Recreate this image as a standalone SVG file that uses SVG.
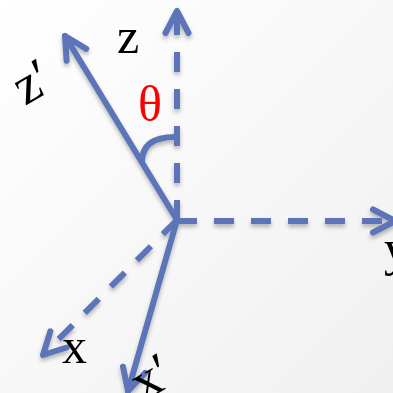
<svg xmlns="http://www.w3.org/2000/svg" width="393" height="393" viewBox="0 0 393 393">
  <defs>
    <linearGradient id="bg" x1="0" y1="0" x2="1" y2="1">
      <stop offset="0" stop-color="#ffffff"/>
      <stop offset="1" stop-color="#f0f0f0"/>
    </linearGradient>
    <filter id="shadow" x="-20%" y="-20%" width="140%" height="140%">
      <feDropShadow dx="0" dy="3" stdDeviation="2" flood-color="#000" flood-opacity="0.28"/>
    </filter>
    <marker id="arrow" markerUnits="userSpaceOnUse" orient="auto" markerWidth="40" markerHeight="40" refX="0" refY="0" viewBox="-30 -20 40 40" overflow="visible">
      <path d="M-22,-11.5 L0,0 L-22,11.5" fill="none" stroke="#5B74B8" stroke-width="6" stroke-linecap="round" stroke-linejoin="round" stroke-dasharray="none"/>
    </marker>
    <style>
      .axis { fill: none; stroke: #5B74B8; stroke-width: 6; stroke-linecap: butt; marker-end: url(#arrow); }
      .dash { stroke-dasharray: 20 17; }
      .solid { stroke-linecap: round; }
      .lbl { font-family: "Liberation Serif", "Times New Roman", serif; font-size: 50px; fill: #000; }
      .lblr { font-family: "Liberation Serif", "Times New Roman", serif; font-size: 54px; fill: #000; }
      .theta { font-family: "Liberation Serif", "Times New Roman", serif; font-size: 50px; fill: #ff0000; }
    </style>
  </defs>
  <rect width="393" height="393" fill="url(#bg)"/>
  <g id="connectors" filter="url(#shadow)">
    <path id="axis-z" class="axis dash" d="M177,220 L177,11"/>
    <path id="axis-y" class="axis dash" d="M177,221 L395,221"/>
    <path id="axis-x" class="axis dash" d="M177,220 L43,355"/>
    <path id="axis-zp" class="axis solid" d="M177,220 L65,36"/>
    <path id="axis-xp" class="axis solid" d="M177,220 L128,391"/>
    <path id="theta-arc" d="M142,162 C142,146 152,137 175,137" fill="none" stroke="#5B74B8" stroke-width="6" stroke-linecap="round"/>
  </g>
  <g id="label-z"><text class="lbl" x="117" y="53">z</text></g>
  <g id="label-y"><text class="lbl" x="384" y="265">y</text></g>
  <g id="label-x"><text class="lbl" x="62" y="363">x</text></g>
  <g id="label-zp"><text class="lblr" transform="translate(25,106) rotate(-30)">z′</text></g>
  <g id="label-xp"><text class="lblr" transform="translate(143,402) rotate(-30)">x′</text></g>
  <g id="label-theta"><text class="theta" x="138" y="121">θ</text></g>
</svg>
